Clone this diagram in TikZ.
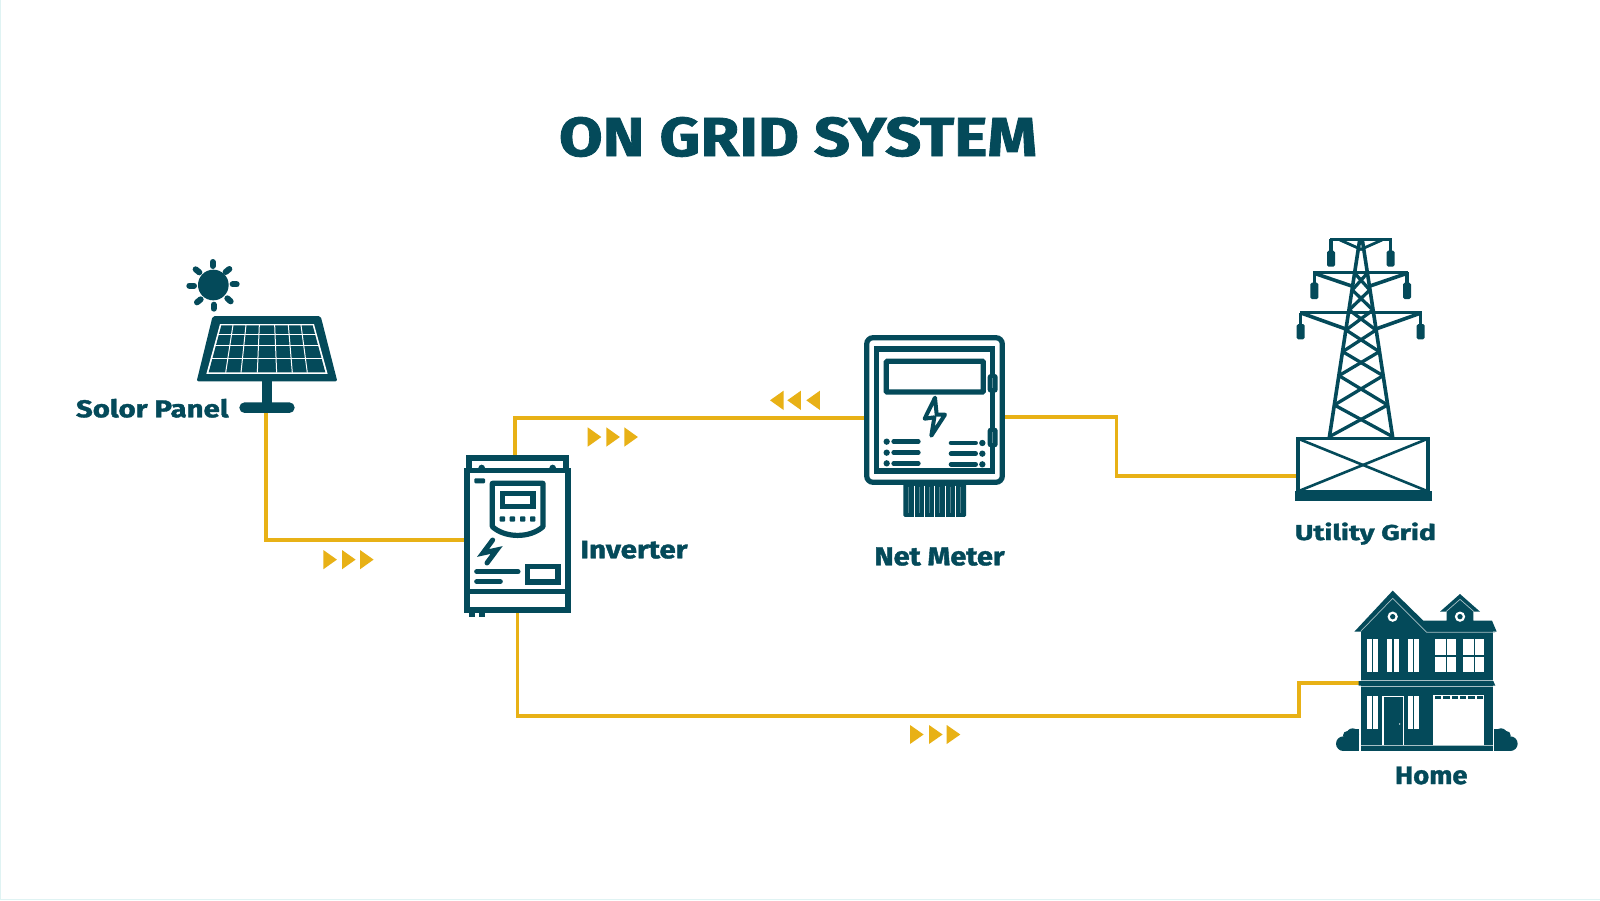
\documentclass[tikz,border=0pt]{standalone}
\usepackage{fontspec}
\usepackage{graphicx}
\setmainfont{Fira Sans}[BoldFeatures={FakeBold=1.4}]
\definecolor{deep}{HTML}{044A5A}
\definecolor{wire}{HTML}{E8B116}
\definecolor{edgeline}{HTML}{DFF3F3}
\newcommand{\fitlbl}[3]{\resizebox{#1bp}{#2bp}{\bfseries #3}}
\tikzset{
  wirepath/.style={draw=wire,line width=3.8bp,line join=miter},
  tri/.style={fill=wire,draw=none},
  ink/.style={draw=deep,line width=5.2bp},
  thinink/.style={draw=deep,line width=4bp},
  roundbar/.style={draw=deep,line width=5bp,line cap=round},
  gap/.style={draw=white,line width=1bp},
  iconbox/.style={inner sep=0pt,outer sep=0pt,draw=none,fill=none},
  lbl/.style={inner sep=0pt,outer sep=0pt,text=deep,anchor=base west},
  zoomed/.style={x=0.33333bp,y=-0.33333bp}
}
\begin{document}
\begin{tikzpicture}[x=1bp,y=-1bp]
\useasboundingbox (0,0) rectangle (1600,900);
\fill[white] (0,0) rectangle (1600,900);
\fill[edgeline] (0,0) rectangle (1.3,900);
\fill[edgeline] (0,898.7) rectangle (1600,900);

% anchors of the connectors
\node[iconbox,minimum width=139.4bp,minimum height=96bp] (panel) at (265.7,365) {};
\node[iconbox,minimum width=106.4bp,minimum height=144bp] (inverter) at (517.5,540) {};
\node[iconbox,minimum width=141bp,minimum height=150bp] (meter) at (934.5,410) {};
\node[iconbox,minimum width=132.6bp,minimum height=77.4bp] (grid) at (1363,476) {};
\node[iconbox,minimum width=132.6bp,minimum height=120bp] (home) at (1426.6,683.3) {};
\coordinate (invTop) at (515,456);
\coordinate (meterL) at (864,418.3);
\coordinate (meterR) at (1005,417);
\coordinate (bendA) at (1116.5,417);
\coordinate (bendB) at (1299.3,715.7);

% connectors
\draw[wirepath] (panel.south) ++(0,-2) |- (inverter.west);
\draw[wirepath] (invTop) |- (meterL);
\draw[wirepath] (meterR) -- (bendA) |- (grid.west);
\draw[wirepath] (inverter.south) |- (bendB) |- (home.west);

% direction triangles
\foreach \xa in {323.3,342,360}
  \fill[tri] (\xa,550) -- (\xa+13.6,559.6) -- (\xa,569.3) -- cycle;
\foreach \xa in {587.7,606.3,624.3}
  \fill[tri] (\xa,427.3) -- (\xa+13.6,437) -- (\xa,446.7) -- cycle;
\foreach \xa in {770,787.3,806.3}
  \fill[tri] (\xa,400.3) -- (\xa+13.6,390.7) -- (\xa+13.6,410) -- cycle;
\foreach \xa in {910,929,946.7}
  \fill[tri] (\xa,725) -- (\xa+13.6,734.5) -- (\xa,744) -- cycle;

% title
\node[lbl] (title) at (559,156) {\fitlbl{478}{39}{ON GRID SYSTEM}};

% solar panel
\begin{scope}[shift={(60,240)},zoomed]
  \fill[deep] (460,135) circle (46);
  \foreach \xa/\ya/\xb/\yb in {458/66/458/78,461/194/461/206,388/137/402/137,518/133/530/133,407/88/418/97,508/87/497/96,411/187/422/178,512/184/502/175}
    \draw[deep,line width=6bp,line cap=round] (\xa,\ya) -- (\xb,\yb);
  \fill[deep,rounded corners=2bp] (458,228) -- (782,228) -- (832,424) -- (410,424) -- cycle;
  \fill[white] (480,252) -- (762,252) -- (803,402) -- (439,402) -- cycle;
  \fill[deep] (484,256) -- (758,256) -- (796,397) -- (446,397) -- cycle;
  \foreach \xa/\xb in {519/497,558/543,598/592,644/650,685/697,723/742}
    \draw[gap] (\xa,255) -- (\xb,398);
  \foreach \ya/\xa/\xb in {284/472/770,318/463/780,355/453/790}
    \draw[gap] (\xa,\ya) -- (\xb,\ya);
  \fill[deep] (605,420) rectangle (637,492);
  \fill[deep,rounded corners=5.3bp] (538,487) rectangle (704,519);
\end{scope}
\node[lbl] (lblpanel) at (76,417.3) {\fitlbl{152.5}{18.5}{Solor Panel}};

% inverter
\begin{scope}[shift={(440,440)},zoomed]
  \draw[ink] (87,92) -- (87,54) -- (378,54) -- (378,92);
  \fill[deep] (125,84) circle (10);
  \fill[deep] (338,84) circle (10);
  \draw[ink,fill=white] (81,92) rectangle (384,510);
  \draw[ink] (81,455) -- (384,455);
  \fill[deep] (88,515) rectangle (105,532);
  \fill[deep] (118,515) rectangle (135,532);
  \fill[deep,rounded corners=1bp] (103,115) rectangle (135,130);
  \draw[ink,line join=round] (157,130) -- (309,130) -- (309,260) .. controls (270,295) and (196,295) .. (157,260) -- cycle;
  \draw[ink] (187,160) rectangle (279,199);
  \foreach \xa in {187,217,248,278}
    \fill[deep,rounded corners=0.8bp] (\xa-8,229) rectangle (\xa+8,245);
  \draw[deep,line width=5bp,line cap=round,line join=miter] (158,300) -- (129,339) -- (170,330) -- (141,369);
  \draw[roundbar] (110,395) -- (234,395);
  \draw[roundbar] (110,425) -- (181,425);
  \draw[ink] (262,380) rectangle (354,426);
\end{scope}
\node[lbl] (lblinv) at (580.5,558.3) {\fitlbl{107}{17.5}{Inverter}};

% net meter
\begin{scope}[shift={(840,320)},zoomed]
  \fill[deep,rounded corners=1.5bp] (190,480) rectangle (378,591);
  \foreach \xa in {222,252,283,315,347}
    \draw[white,line width=0.6bp] (\xa,497) -- (\xa,591);
  \foreach \xa in {205,237,268,299,331,362}
    \draw[deep!70!white,line width=0.6bp] (\xa,500) -- (\xa,580);
  \draw[ink,fill=white,rounded corners=6.5bp] (80,53) rectangle (487,487);
  \draw[ink] (110,87) rectangle (458,453);
  \draw[ink,rounded corners=0.8bp] (139,124) rectangle (430,216);
  \fill[deep,rounded corners=3bp] (443,162) rectangle (473,218);
  \fill[deep,rounded corners=3bp] (443,323) rectangle (473,382);
  \draw[deep!65!white,line width=0.6bp] (458,175) -- (458,205);
  \draw[deep!65!white,line width=0.6bp] (458,336) -- (458,370);
  \draw[thinink,line join=round] (285,233) -- (254,296) -- (283,292) -- (274,347) -- (315,284) -- (290,284) -- cycle;
  \foreach \ya in {365,398,430} {
    \fill[deep] (140,\ya) circle (9.5);
    \draw[roundbar,line width=4.6bp] (161,\ya) -- (235,\ya);
  }
  \foreach \ya in {369,401,433} {
    \fill[deep] (427,\ya) circle (9.5);
    \draw[roundbar,line width=4.6bp] (333,\ya) -- (407,\ya);
  }
\end{scope}
\node[lbl] (lblmeter) at (874.5,565.3) {\fitlbl{130}{18}{Net Meter}};

% utility grid
\begin{scope}[shift={(1280,230)},zoomed]
  \tikzset{mast/.style={draw=deep,line width=3.6bp,line join=miter}}
  \draw[mast] (148,622) -- (239,30);
  \draw[mast] (338,622) -- (247,30);
  \foreach \ya/\yb in {620/525,525/437,437/365,365/300,300/240,240/180,180/130} {
    \pgfmathsetmacro{\xl}{148+(622-\ya)*0.1555}
    \pgfmathsetmacro{\xr}{338-(622-\ya)*0.1555}
    \pgfmathsetmacro{\xL}{148+(622-\yb)*0.1555}
    \pgfmathsetmacro{\xR}{338-(622-\yb)*0.1555}
    \draw[mast,line width=3.3bp] (\xl,\ya) -- (\xR,\yb);
    \draw[mast,line width=3.3bp] (\xr,\ya) -- (\xL,\yb);
  }
  % arms
  \draw[mast] (150,28) -- (336,28);
  \draw[mast,line width=2.8bp] (180,30) -- (243,58) -- (306,30);
  \draw[mast] (100,127) -- (384,127);
  \draw[mast] (103,130) -- (215,168);
  \draw[mast] (381,130) -- (270,168);
  \draw[mast] (60,248) -- (426,248);
  \draw[mast] (66,250) -- (200,298);
  \draw[mast] (420,250) -- (285,298);
  \foreach \xa/\ya/\yb/\yc in {153/28/62/110,332/28/62/110,103/127/158/207,381/127/158/207,62/248/282/328,422/248/282/328} {
    \draw[mast] (\xa,\ya) -- (\xa,\yb);
    \fill[deep,rounded corners=1.6bp] (\xa-12,\yb) rectangle (\xa+12,\yc);
  }
  % base box
  \draw[deep,line width=3.4bp,fill=white] (54,626) rectangle (444,784);
  \draw[deep,line width=2.6bp] (54,626) -- (444,784);
  \draw[deep,line width=2.6bp] (444,626) -- (54,784);
  \fill[deep] (45,782) rectangle (455,813);
\end{scope}
\node[lbl] (lblgrid) at (1295,540) {\fitlbl{141}{17.5}{Utility Grid}};

% home
\begin{scope}[shift={(1320,580)},zoomed]
  \tikzset{
    pane/.style={fill=white,draw=none},
    hairline/.style={draw=deep!35!white,line width=0.7bp}
  }
  % bushes
  \foreach \xa/\xb/\xc/\xd/\xe in {70/82/98/70/118, 571/559/543/571/523} {
    \fill[deep] (\xa,491) circle (22);
    \fill[deep] (\xb,466) circle (13);
    \fill[deep] (\xc,464) circle (19);
    \fill[deep] (\xd,470) rectangle (\xe,512);
    \fill[deep] (\xc,446) rectangle (\xe,470);
  }
  % body and roofs
  \fill[deep] (122,150) rectangle (520,512);
  \fill[deep] (103,155) -- (218,32) -- (310,122) -- (380,122) -- (380,95) -- (360,95) -- (420,42) -- (480,95) -- (460,95) -- (460,122) -- (516,122) -- (530,155) -- cycle;
  \draw[hairline] (122,154) -- (218,55) -- (320,157) -- (525,157);
  \draw[hairline] (378,95) -- (420,58) -- (462,95);
  \foreach \xa in {218,420} {
    \fill[white] (\xa,110) circle (15.5);
    \fill[deep] (\xa,110) circle (8);
  }
  % upper windows
  \foreach \xa in {140,202,263} {
    \fill[pane] (\xa,177) rectangle (\xa+15,276);
    \fill[pane] (\xa+20,177) rectangle (\xa+35,276);
  }
  \foreach \xa in {346,430} {
    \fill[pane] (\xa,177) rectangle (\xa+31,225);
    \fill[pane] (\xa+34,177) rectangle (\xa+63,225);
    \fill[pane] (\xa,230) rectangle (\xa+31,276);
    \fill[pane] (\xa+34,230) rectangle (\xa+63,276);
  }
  % floor band
  \fill[deep] (116,303) -- (520,303) -- (526,317) -- (116,317) -- cycle;
  \draw[hairline] (122,300) -- (520,300);
  \draw[hairline] (122,319) -- (520,319);
  % lower windows and door
  \foreach \xa in {140,263} {
    \fill[pane] (\xa,348) rectangle (\xa+15,448);
    \fill[pane] (\xa+20,348) rectangle (\xa+35,448);
  }
  \draw[white,line width=1.3bp] (189,495) -- (189,349) -- (251,349) -- (251,495);
  \fill[white] (239,432) circle (2.2);
  % garage
  \fill[pane] (340,345) rectangle (493,495);
  \foreach \xa in {345,370,395,420,445,470}
    \fill[deep] (\xa,349) rectangle (\xa+19,358);
  \draw[deep!35!white,line width=0.9bp] (122,495) -- (520,495);
\end{scope}
\node[lbl] (lblhome) at (1395,784) {\fitlbl{72.5}{17.5}{Home}};
\end{tikzpicture}
\end{document}
